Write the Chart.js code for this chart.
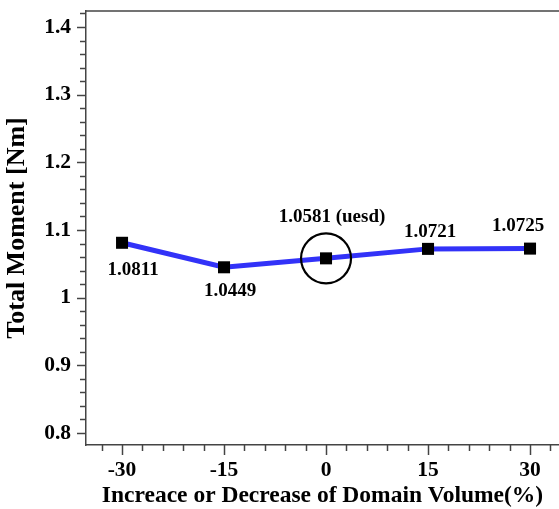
<!DOCTYPE html>
<html>
<head>
<meta charset="utf-8">
<script src="https://cdn.jsdelivr.net/npm/chart.js@4/dist/chart.umd.min.js"></script>
<style>
    html, body { margin: 0; padding: 0; background: #fff; overflow: hidden; }
    #wrap { width: 559px; height: 509px; position: relative; }
</style>
</head>
<body>
<div id="wrap"><canvas id="myChart"></canvas></div>
<script>
// Data
const volumeChange = [-30, -15, 0, 15, 30];
const totalMoment = [1.0811, 1.0449, 1.0581, 1.0721, 1.0725];
const pointLabels = ['1.0811', '1.0449', '1.0581 (uesd)', '1.0721', '1.0725'];
const xTickLabels = [-30, -15, 0, 15, 30];
const yTickLabels = [0.8, 0.9, 1.0, 1.1, 1.2, 1.3, 1.4];
const highlightIndex = 2;

// label offsets from each point (px)
const labelOffsets = [[11, 27], [6, 24], [6, -41], [2, -17], [-12, -23]];

const serif = 'Liberation Serif';

// drop the edge padding chart.js adds for labels
function noEdgePad(s) {
    s.paddingTop = 0;
    s.paddingBottom = 0;
    s.paddingLeft = 0;
    s.paddingRight = 0;
}

// draws ticks, top border, point labels, circle
const decorPlugin = {
    id: 'decor',
    afterDatasetsDraw(chart) {
        const ctx = chart.ctx;
        const area = chart.chartArea;
        const xs = chart.scales.x;
        const ys = chart.scales.y;
        ctx.save();
        ctx.strokeStyle = '#444';
        ctx.lineWidth = 1.5;

        // top border
        ctx.beginPath();
        ctx.moveTo(area.left, area.top);
        ctx.lineTo(area.right, area.top);
        ctx.stroke();

        // y ticks every 0.02
        for (let i = 39; i <= 71; i++) {
            const v = i / 50;
            if (v < ys.min || v > ys.max) continue;
            const y = Math.round(ys.getPixelForValue(v)) + 0.5;
            const len = (i % 5 === 0) ? 9 : 6;
            ctx.beginPath();
            ctx.moveTo(area.left - len, y);
            ctx.lineTo(area.left, y);
            ctx.stroke();
        }

        // x ticks every 3
        for (let v = -33; v <= 33; v += 3) {
            const x = Math.round(xs.getPixelForValue(v)) + 0.5;
            const len = (v % 15 === 0) ? 10 : 6;
            ctx.beginPath();
            ctx.moveTo(x, area.bottom);
            ctx.lineTo(x, area.bottom + len);
            ctx.stroke();
        }

        // circle around the used case
        const cx = xs.getPixelForValue(volumeChange[highlightIndex]);
        const cy = ys.getPixelForValue(totalMoment[highlightIndex]);
        ctx.strokeStyle = '#000';
        ctx.lineWidth = 2.2;
        ctx.beginPath();
        ctx.arc(cx, cy, 25, 0, Math.PI * 2);
        ctx.stroke();

        // value labels
        ctx.fillStyle = '#000';
        ctx.font = 'bold 19px "' + serif + '"';
        ctx.textAlign = 'center';
        ctx.textBaseline = 'middle';
        pointLabels.forEach((txt, i) => {
            const px = xs.getPixelForValue(volumeChange[i]);
            const py = ys.getPixelForValue(totalMoment[i]);
            ctx.fillText(txt, px + labelOffsets[i][0], py + labelOffsets[i][1]);
        });
        ctx.restore();
    }
};

document.addEventListener('DOMContentLoaded', () => {
    const ctx = document.getElementById('myChart').getContext('2d');
    new Chart(ctx, {
        type: 'line',
        data: {
            datasets: [{
                data: volumeChange.map((v, i) => ({ x: v, y: totalMoment[i] })),
                borderColor: '#3232f8',
                borderWidth: 5,
                tension: 0,
                pointStyle: 'rect',
                pointRadius: 8.5,
                pointBackgroundColor: '#000',
                pointBorderWidth: 0,
                clip: false
            }]
        },
        options: {
            responsive: true,
            maintainAspectRatio: false,
            animation: false,
            events: [],
            layout: { autoPadding: false, padding: { top: 11, right: 0, left: 0, bottom: 0 } },
            plugins: {
                legend: { display: false },
                tooltip: { enabled: false }
            },
            scales: {
                x: {
                    type: 'linear',
                    min: -35.3,
                    max: 34.26,
                    afterFit: s => { s.height = 64; noEdgePad(s); },
                    afterBuildTicks: s => { s.ticks = xTickLabels.map(v => ({ value: v })); },
                    grid: { display: false, drawTicks: false },
                    border: { display: true, color: '#444', width: 1.5 },
                    ticks: {
                        padding: 13,
                        color: '#000',
                        maxRotation: 0,
                        font: { family: serif, size: 21.5, weight: 'bold' }
                    },
                    title: {
                        display: true,
                        text: 'Increace or Decrease of Domain Volume(%)',
                        color: '#000',
                        padding: { top: 0, bottom: -1 },
                        font: { family: serif, size: 23.5, weight: 'bold' }
                    }
                },
                y: {
                    type: 'linear',
                    min: 0.7823,
                    max: 1.4236,
                    afterFit: s => { s.width = 86; noEdgePad(s); },
                    afterBuildTicks: s => { s.ticks = yTickLabels.map(v => ({ value: v })); },
                    grid: { display: false, drawTicks: false },
                    border: { display: true, color: '#444', width: 1.5 },
                    ticks: {
                        padding: 15,
                        color: '#000',
                        font: { family: serif, size: 21.5, weight: 'bold' },
                        callback: v => String(+v.toFixed(1))
                    },
                    title: {
                        display: true,
                        text: 'Total Moment [Nm]',
                        color: '#000',
                        padding: { top: 2, bottom: 0 },
                        font: { family: serif, size: 26, weight: 'bold' }
                    }
                }
            }
        },
        plugins: [decorPlugin]
    });
});
</script>
</body>
</html>
